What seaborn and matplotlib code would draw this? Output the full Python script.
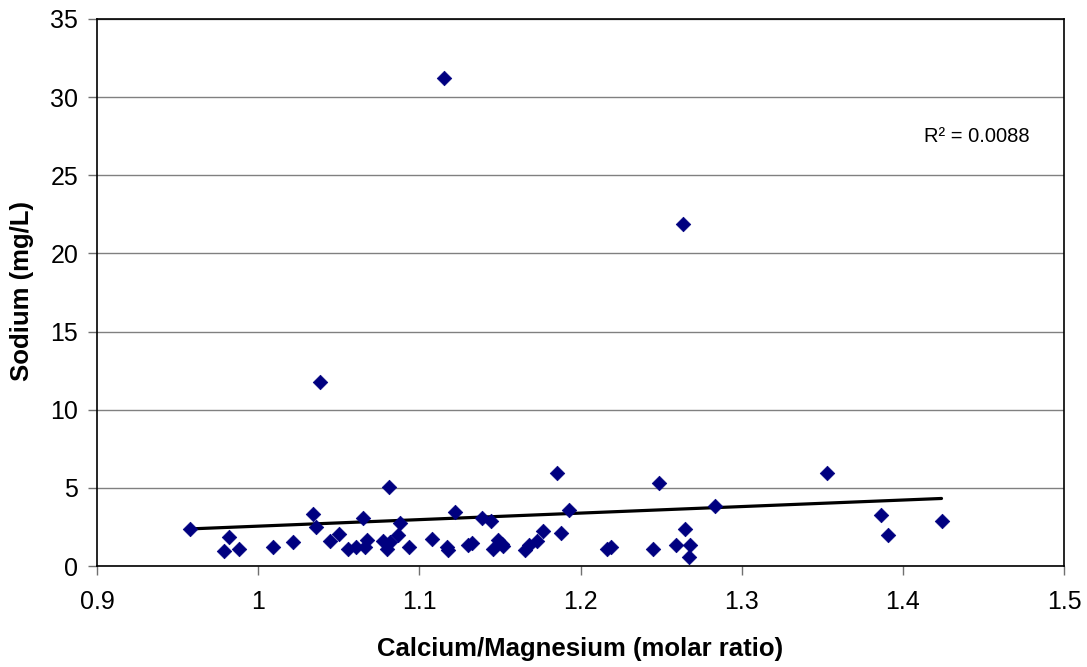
import numpy as np
import pandas as pd
import matplotlib
matplotlib.use("Agg")
import matplotlib.pyplot as plt
import seaborn as sns

ratio = [0.958, 0.9816, 0.979, 0.9878, 1.009, 1.0215, 1.034, 1.036, 1.0447, 1.050,
         1.056, 1.061, 1.065, 1.0675, 1.0665, 1.0775, 1.080, 1.081, 1.082, 1.088,
         1.087, 1.0936, 1.108, 1.1176, 1.117, 1.122, 1.130,
         1.139, 1.1445, 1.1327, 1.1457, 1.1487, 1.151, 1.152, 1.1855, 1.1658, 1.168,
         1.173, 1.177, 1.188, 1.193, 1.2166, 1.219, 1.2489, 1.2451, 1.259, 1.265,
         1.268, 1.2675, 1.2836,
         1.3532, 1.3866, 1.3905, 1.424,
         1.1155, 1.2634, 1.0385]
sodium = [2.39, 1.88, 0.98, 1.11, 1.24, 1.54, 3.33, 2.52, 1.62, 2.05,
          1.11, 1.24, 3.07, 1.66, 1.20, 1.62, 1.07, 5.07, 1.54, 2.73,
          2.00, 1.24, 1.75, 1.02, 1.24, 3.45, 1.36,
          3.07, 2.90, 1.49, 1.11, 1.66, 1.41, 1.28, 5.97, 1.02, 1.32,
          1.62, 2.26, 2.13, 3.58, 1.11, 1.24, 5.33, 1.11, 1.36, 2.39,
          1.36, 0.56, 3.84,
          5.97, 3.28, 2.00, 2.90,
          31.2, 21.9, 11.8]
xtick_vals = [0.9, 1.0, 1.1, 1.2, 1.3, 1.4, 1.5]
xtick_labels = ["0.9", "1", "1.1", "1.2", "1.3", "1.4", "1.5"]
ytick_vals = [0, 5, 10, 15, 20, 25, 30, 35]

df = pd.DataFrame({"ratio": ratio, "sodium": sodium})

sns.set_theme(style="white")
plt.rcParams["font.family"] = ["Liberation Sans", "DejaVu Sans"]
plt.rcParams["text.color"] = "black"
plt.rcParams["axes.labelcolor"] = "black"

fig = plt.figure(figsize=(10.87, 6.67), dpi=100)
ax = fig.add_axes([97/1087, 1 - 566/667, (1064-97)/1087, (566-19)/667])

ax.set_xlim(0.9, 1.5)
ax.set_ylim(0, 35)
ax.set_xticks(xtick_vals)
ax.set_xticklabels(xtick_labels)
ax.set_yticks(ytick_vals)
ax.yaxis.grid(True, color="#808080", linewidth=1)
ax.set_axisbelow(True)

sns.regplot(data=df, x="ratio", y="sodium", ax=ax, scatter=False, ci=None,
            truncate=True, line_kws=dict(color="black", linewidth=2.3, zorder=2))
sns.scatterplot(data=df, x="ratio", y="sodium", ax=ax, marker="D", s=55,
                color="#000080", edgecolor="#000080", linewidth=0.5, zorder=3)

for sp in ax.spines.values():
    sp.set_color("black")
    sp.set_linewidth(1.2)

ax.tick_params(axis="both", which="major", direction="out", length=6.5, width=1,
               color="#707070", labelcolor="black", labelsize=18, bottom=True, left=True)
ax.tick_params(axis="x", pad=11)
ax.tick_params(axis="y", pad=7)

ax.set_xlabel("Calcium/Magnesium (molar ratio)", fontsize=18.5, fontweight="bold", color="black")
ax.set_ylabel("Sodium (mg/L)", fontsize=18.5, fontweight="bold", color="black")
ax.xaxis.label.set_va("center")
ax.yaxis.label.set_va("center")
ax.xaxis.set_label_coords(0.5, (566 - 649) / 547)
ax.yaxis.set_label_coords((22 - 97) / 967, (566 - 291) / 547)

ax.text(1.446, 27.45, "R² = 0.0088", fontsize=14.5, ha="center", va="center", color="black")

fig.savefig("out.png", dpi=100)
